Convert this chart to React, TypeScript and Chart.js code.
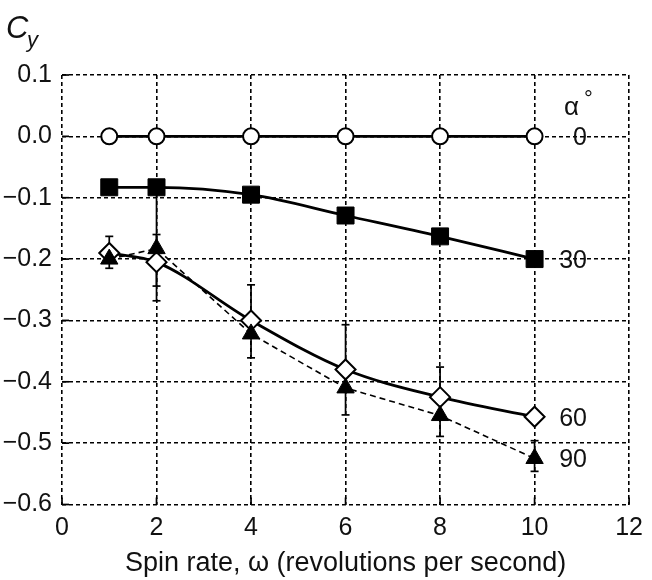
import React, { useEffect, useRef } from 'react';
import { Chart, registerables } from 'chart.js';

Chart.register(...registerables);

// ---- data ----
const spinRates = [1, 2, 4, 6, 8, 10];
const cyAlpha0 = [0, 0, 0, 0, 0, 0];
const cyAlpha30 = [-0.083, -0.083, -0.095, -0.129, -0.163, -0.2];
const cyAlpha60 = [-0.19, -0.205, -0.3, -0.38, -0.425, -0.457];
const cyAlpha90 = [-0.2, -0.183, -0.322, -0.41, -0.455, -0.525];
const errHigh60: (number | null)[] = [-0.163, -0.16, -0.242, -0.307, -0.376, null];
const errLow60: (number | null)[] = [-0.19, -0.268, -0.361, -0.454, -0.489, null];
const errHigh90: (number | null)[] = [null, -0.085, null, null, null, -0.496];
const errLow90: (number | null)[] = [-0.215, -0.244, null, null, null, -0.546];
const seriesLabels = ['0', '30', '60', '90'];
const alphaHeader = 'α';
const xTickValues = [0, 2, 4, 6, 8, 10, 12];
const yTickLabels = ['−0.6', '−0.5', '−0.4', '−0.3', '−0.2', '−0.1', '0.0', '0.1'];
const xTitle = 'Spin rate, ω (revolutions per second)';

const FONT = '"Liberation Sans", Arial, Helvetica, sans-serif';

const toPoints = (ys: number[]) => spinRates.map((x, i) => ({ x, y: ys[i] }));

const decorPlugin = {
  id: 'decor',
  beforeDatasetsDraw(chart: any) {
    const { ctx, scales, chartArea } = chart;
    const xs = scales.x;
    const ys = scales.y;
    ctx.save();
    ctx.strokeStyle = '#000';
    ctx.lineWidth = 1.7;
    ctx.setLineDash([]);
    // inward ticks
    xTickValues.forEach((v) => {
      const px = xs.getPixelForValue(v);
      ctx.beginPath();
      ctx.moveTo(px, chartArea.bottom);
      ctx.lineTo(px, chartArea.bottom - 7);
      ctx.stroke();
    });
    ys.ticks.forEach((t: any) => {
      const py = ys.getPixelForValue(t.value);
      ctx.beginPath();
      ctx.moveTo(chartArea.left, py);
      ctx.lineTo(chartArea.left + 7, py);
      ctx.stroke();
    });
    // error bars
    const drawErr = (hi: (number | null)[], lo: (number | null)[], base: number[]) => {
      spinRates.forEach((x, i) => {
        const px = xs.getPixelForValue(x);
        const h = hi[i] ?? base[i];
        const l = lo[i] ?? base[i];
        const pyH = ys.getPixelForValue(h);
        const pyL = ys.getPixelForValue(l);
        ctx.beginPath();
        ctx.moveTo(px, pyH);
        ctx.lineTo(px, pyL);
        ctx.stroke();
        if (hi[i] !== null) {
          ctx.beginPath();
          ctx.moveTo(px - 4, pyH);
          ctx.lineTo(px + 4, pyH);
          ctx.stroke();
        }
        if (lo[i] !== null) {
          ctx.beginPath();
          ctx.moveTo(px - 4, pyL);
          ctx.lineTo(px + 4, pyL);
          ctx.stroke();
        }
      });
    };
    drawErr(errHigh60, errLow60, cyAlpha60);
    drawErr(errHigh90, errLow90, cyAlpha90);
    ctx.restore();
  },
  afterDraw(chart: any) {
    const { ctx, scales } = chart;
    const ys = scales.y;
    ctx.save();
    ctx.fillStyle = '#111';
    // series labels on the right
    ctx.font = `25px ${FONT}`;
    ctx.textAlign = 'right';
    ctx.textBaseline = 'middle';
    const lastVals = [cyAlpha0, cyAlpha30, cyAlpha60, cyAlpha90].map((a) => a[a.length - 1]);
    lastVals.forEach((v, i) => {
      ctx.fillText(seriesLabels[i], 587, ys.getPixelForValue(v) + 2);
    });
    // alpha header
    ctx.textAlign = 'left';
    ctx.font = `26px ${FONT}`;
    ctx.fillText(alphaHeader, 564, 108);
    ctx.font = `22px ${FONT}`;
    ctx.fillText('°', 584, 100);
    // C_y axis label
    ctx.textBaseline = 'alphabetic';
    ctx.font = `italic 31px ${FONT}`;
    ctx.fillText('C', 6, 38);
    ctx.font = `italic 22px ${FONT}`;
    ctx.fillText('y', 27, 47);
    ctx.restore();
  },
};

export default function App() {
  const ref = useRef<HTMLCanvasElement>(null);
  useEffect(() => {
    document.body.style.margin = '0';
    const canvas = ref.current!;
    const chart = new Chart(canvas, {
      type: 'line',
      data: {
        datasets: [
          {
            label: 'α = 0°',
            data: toPoints(cyAlpha0),
            borderColor: '#000',
            borderWidth: 2.8,
            pointStyle: 'circle',
            pointRadius: 8,
            pointBackgroundColor: '#fff',
            pointBorderColor: '#000',
            pointBorderWidth: 2,
            tension: 0,
            order: 3,
          },
          {
            label: 'α = 30°',
            data: toPoints(cyAlpha30),
            borderColor: '#000',
            borderWidth: 2.8,
            pointStyle: 'rect',
            pointRadius: 12,
            pointBackgroundColor: '#000',
            pointBorderColor: '#000',
            pointBorderWidth: 1,
            cubicInterpolationMode: 'monotone',
            order: 2,
          },
          {
            label: 'α = 60°',
            data: toPoints(cyAlpha60),
            borderColor: '#000',
            borderWidth: 2.8,
            pointStyle: 'rectRot',
            pointRadius: 10,
            pointBackgroundColor: '#fff',
            pointBorderColor: '#000',
            pointBorderWidth: 2,
            cubicInterpolationMode: 'monotone',
            order: 1,
          },
          {
            label: 'α = 90°',
            data: toPoints(cyAlpha90),
            borderColor: '#000',
            borderWidth: 1.6,
            borderDash: [6, 4],
            pointStyle: 'triangle',
            pointRadius: 10,
            pointBackgroundColor: '#000',
            pointBorderColor: '#000',
            pointBorderWidth: 1,
            tension: 0,
            order: 0,
          },
        ],
      },
      options: {
        animation: false,
        responsive: false,
        devicePixelRatio: 1,
        layout: { padding: { left: 0, right: 22, top: 75, bottom: 0 } },
        plugins: { legend: { display: false }, tooltip: { enabled: false } },
        scales: {
          x: {
            type: 'linear',
            min: 0,
            max: 12,
            afterFit: (s: any) => {
              s.height = 75.5;
            },
            afterBuildTicks: (s: any) => {
              s.ticks = xTickValues.map((v) => ({ value: v }));
            },
            ticks: {
              color: '#111',
              font: { family: FONT, size: 25 },
              padding: 9,
              maxRotation: 0,
              callback: (v: any) => String(v),
            },
            grid: { color: '#000', lineWidth: 1.6, drawTicks: false },
            border: { display: false, dash: [4, 3] },
            title: {
              display: true,
              text: xTitle,
              color: '#111',
              font: { family: FONT, size: 27 },
              padding: { top: 2, bottom: 0 },
            },
          },
          y: {
            type: 'linear',
            min: -0.6,
            max: 0.1,
            afterFit: (s: any) => {
              s.width = 62;
            },
            ticks: {
              stepSize: 0.1,
              color: '#111',
              font: { family: FONT, size: 25 },
              padding: 10,
              callback: (_v: any, i: number) => yTickLabels[i],
            },
            grid: { color: '#000', lineWidth: 1.6, drawTicks: false },
            border: { display: false, dash: [4, 3] },
          },
        },
      },
      plugins: [decorPlugin],
    });
    return () => chart.destroy();
  }, []);
  return (
    <div style={{ width: 652, height: 580, background: '#fff' }}>
      <canvas ref={ref} width={652} height={580} />
    </div>
  );
}
